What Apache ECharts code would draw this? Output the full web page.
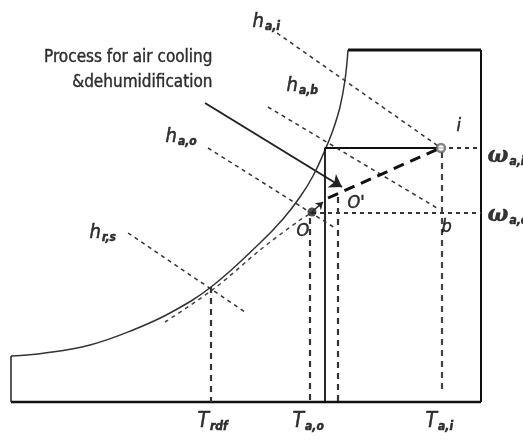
<!DOCTYPE html>
<html><head><meta charset="utf-8">
<script src="https://cdn.jsdelivr.net/npm/echarts@6/dist/echarts.min.js"></script>
<style>html,body{margin:0;padding:0;background:#fff}#c{width:523px;height:447px}</style>
</head><body><div id="c"></div>
<script>
// Diagram in chart units: x = dry-bulb temperature direction (0..523), y = humidity direction (0..447, axis inverted)
const saturationCurve = [[11,356],[45,353],[90,345],[133,330],[170,313],[211,287],[260,243],[283,219],[300,197],[313,176],[325,150],[333,130],[340,107],[345,80],[348,50]];
const frameBottom = [[11,402],[481,402]];
const frameLeft = [[11,402],[11,356]];
const frameTop = [[348,50],[481,50]];
const frameRight = [[481,50],[481,402]];
const coilBox = [[325,402],[325,148],[441,148]];
const enthalpyAI = [[277,33],[441,148]];
const enthalpyAB = [[268,107],[437,208]];
const enthalpyAO = [[208,148],[335,228]];
const enthalpyRS = [[128,233],[245,312]];
const coilLine = [[165,322],[215,288],[260,250],[300,220],[310,214]];
const dropRdf = [[211,287],[211,402]];
const dropAO = [[310,218],[310,400]];
const dropO2 = [[338,197],[338,402]];
const dropAI = [[442,152],[442,393]];
const humAI = [[441,148],[481,148]];
const humAO = [[312,213],[481,213]];
const processPath = [[328,198],[438,149]];
const processArrow = [[205,103],[342,187]];
const aPrimeArrow = [[312,212],[323,202]];
const pointI = [[441,148]];
const pointAPrime = [[312,212]];

const labelTexts = ['Process for air cooling','&dehumidification','{h|h}{s|a,i}','{h|h}{s|a,b}','{h|h}{s|a,o}','{h|h}{s|r,s}','{p|i}',"{p|O'}",'{p|O}','{p|b}','{w|ω}{s|a,i}','{w|ω}{s|a,o}','{t|T}{s|rdf}','{t|T}{s|a,o}','{t|T}{s|a,i}'];
const labelAnchors = [[213,58],[213,83],[253,22],[287,86],[166,137],[90,233],[457,127],[348,204],[297,232],[442,228],[488,157],[488,216],[198,422],[293,422],[426,422]];

const narrow = "'Liberation Sans Narrow','DejaVu Sans Condensed','Liberation Sans',sans-serif";
const ink = {textBorderColor:'#000',textBorderWidth:0.5};
const rich = {
  h:Object.assign({fontFamily:narrow,fontStyle:'italic',fontSize:20,color:'#000'},ink),
  s:Object.assign({fontFamily:narrow,fontStyle:'italic',fontWeight:'bold',fontSize:12,color:'#000',padding:[10,0,0,1]},ink),
  p:Object.assign({fontFamily:narrow,fontStyle:'italic',fontSize:18,color:'#000'},ink),
  w:{fontFamily:"'DejaVu Serif',serif",fontStyle:'italic',fontWeight:'bold',fontSize:22,color:'#000'},
  t:Object.assign({fontFamily:narrow,fontStyle:'italic',fontSize:21,color:'#000'},ink)
};

function seg(data, width, type, color, smooth){
  return {type:'line', data:data, symbol:'none', silent:true, animation:false, smooth:smooth||false,
    lineStyle:{width:width, type:type, color:color||'#222'}, z:2};
}
const thinDash=[4,4], midDash=[6,5], bigDash=[11,7];

const labelData = labelTexts.map(function(t,i){
  const isText = i<2;
  return {value: labelAnchors[i], label:{show:true, formatter:t, position:[0,0],
    align: isText?'right':'left', verticalAlign:'middle', rich:rich,
    fontFamily:narrow, fontSize:isText?17:14, color:'#000', textBorderColor:'#000', textBorderWidth:0.4}};
});

const chart = echarts.init(document.getElementById('c'));
chart.setOption({
  animation:false,
  backgroundColor:'#fff',
  grid:{left:0,right:0,top:0,bottom:0},
  xAxis:{type:'value',min:0,max:523,show:false},
  yAxis:{type:'value',min:0,max:447,inverse:true,show:false},
  series:[
    seg(saturationCurve,1.5,'solid','#333',0.4),
    seg(frameBottom,2.5,'solid','#111'),
    seg(frameLeft,1.5,'solid','#222'),
    seg(frameTop,3,'solid','#111'),
    seg(frameRight,2,'solid','#111'),
    seg(coilBox,1.8,'solid','#111'),
    seg(enthalpyAI,1.5,thinDash,'#333'),
    seg(enthalpyAB,1.5,thinDash,'#333'),
    seg(enthalpyAO,1.5,thinDash,'#333'),
    seg(enthalpyRS,1.5,thinDash,'#333'),
    seg(coilLine,1.5,thinDash,'#444',0.3),
    seg(dropRdf,2.2,midDash,'#333'),
    seg(dropAO,2.2,midDash,'#333'),
    seg(dropO2,2.2,midDash,'#333'),
    seg(dropAI,2.2,midDash,'#444'),
    seg(humAI,2,thinDash,'#333'),
    seg(humAO,2,thinDash,'#333'),
    seg(processPath,3,bigDash,'#111'),
    {type:'lines',coordinateSystem:'cartesian2d',silent:true,animation:false,symbol:['none','arrow'],symbolSize:[9,12],
      lineStyle:{width:2,color:'#222',opacity:1,curveness:0},
      data:[{coords:processArrow},{coords:aPrimeArrow,lineStyle:{width:1.5},symbolSize:7}]},
    {type:'scatter',data:pointI,symbol:'circle',symbolSize:8,silent:true,itemStyle:{color:'#fff',borderColor:'#666',borderWidth:2.5},z:5},
    {type:'scatter',data:pointAPrime,symbol:'circle',symbolSize:9,silent:true,itemStyle:{color:'#222'},z:5},
    {type:'scatter',data:labelData,symbolSize:1,silent:true,itemStyle:{color:'rgba(0,0,0,0)'},z:6}
  ]
});
</script></body></html>
